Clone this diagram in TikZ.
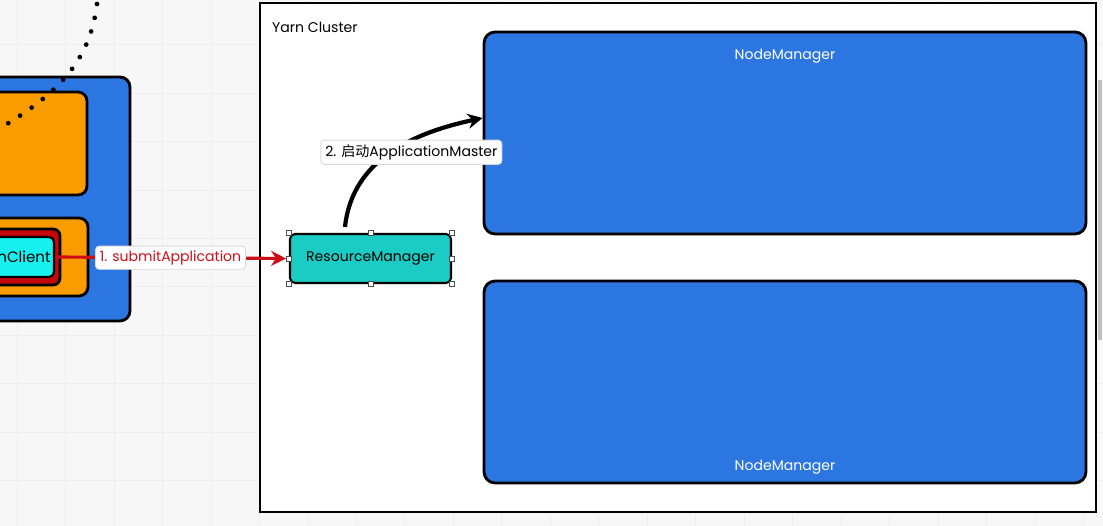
\documentclass[tikz,border=0pt]{standalone}
\usepackage{fontspec}
\setmainfont{Poppins}
\newfontfamily\cjk{Noto Sans CJK SC}
\usetikzlibrary{arrows.meta}

\definecolor{nmblue}{RGB}{43,118,224}
\definecolor{boxorange}{RGB}{250,156,0}
\definecolor{rmteal}{RGB}{26,204,196}
\definecolor{clientcyan}{RGB}{24,240,240}
\definecolor{clientred}{RGB}{196,8,12}
\definecolor{arrowred}{RGB}{205,15,25}
\definecolor{canvas}{RGB}{247,247,247}

\begin{document}
\begin{tikzpicture}[x=0.02cm,y=-0.02cm,
	font=\fontsize{8}{10}\selectfont,
	box/.style={shape=rectangle,draw=black,line width=1.6pt,rounded corners=0.22cm,inner sep=0pt},
	nm/.style={box,fill=nmblue,minimum width=12.04cm,minimum height=4.04cm},
	tag/.style={shape=rectangle,draw=black!15,line width=0.5pt,fill=white,rounded corners=2pt,inner sep=2.5pt},
	handle/.style={shape=rectangle,draw=black!70,fill=white,line width=0.4pt,minimum size=0.1cm,inner sep=0pt}]

	\useasboundingbox (0,0) rectangle (1103,526);
	\clip (0,0) rectangle (1103,526);
	\fill[canvas] (0,0) rectangle (1103,526);
	\draw[black!7,line width=0.5pt,xshift=0.34cm,yshift=0.08cm,step=0.97cm] (-50,-50) grid (1150,600);

	\node[shape=rectangle,draw=black,fill=white,line width=1.2pt,minimum width=16.72cm,minimum height=10.18cm,inner sep=0pt] (cluster) at (678,257.5) {};
	\node[anchor=west] (clustertext) at (266,27) {Yarn Cluster};

	\node[nm] (nmA) at (785,133) {};
	\node[nm] (nmB) at (785,382) {};
	\node[white] (nmAtext) at (785,56) {NodeManager};
	\node[white] (nmBtext) at (785,467) {NodeManager};

	\node[box,fill=nmblue,rounded corners=0.2cm,minimum width=4.6cm,minimum height=4.88cm] (client) at (15,199) {};
	\node[box,fill=boxorange,rounded corners=0.18cm,minimum width=3.34cm,minimum height=2.06cm] (orA) at (3.5,143.5) {};
	\node[box,fill=boxorange,rounded corners=0.18cm,minimum width=3.36cm,minimum height=1.56cm] (orB) at (4,257) {};
	\node[box,fill=clientred,rounded corners=0.14cm,minimum width=2.4cm,minimum height=1.12cm] (yred) at (0,257) {};
	\node[box,fill=clientcyan,line width=1.2pt,rounded corners=0.1cm,minimum width=2.16cm,minimum height=0.8cm] (yc) at (0,257) {};
	\node[anchor=east,inner sep=0pt,font=\fontsize{8.6}{10}\selectfont] (yctext) at (51,257) {YarnClient};

	\node[box,fill=rmteal,line width=1.2pt,rounded corners=0.1cm,minimum width=3.22cm,minimum height=0.98cm] (rm) at (370.5,258.5) {ResourceManager};
	\foreach \a [count=\i] in {north west,north,north east,east,south east,south,south west,west}
		\node[handle] (h\i) at (rm.\a) {};

	\coordinate (rmtop) at ([xshift=-0.51cm,yshift=0.12cm]rm.north);
	\coordinate (nmin) at ([yshift=0.3cm]nmA.west);

	\path[draw=arrowred,line width=1.8pt,-{Stealth[length=0.3cm,width=0.3cm]}] (yc.east) -- node[tag,text=arrowred]{1. submitApplication} (h8);
	\path[draw=black,line width=2.4pt,-{Stealth[length=0.3cm,width=0.3cm]}] (rmtop) to[out=84,in=192] node[tag,pos=0.5,xshift=0.4cm]{2. {\cjk 启动}ApplicationMaster} (nmin);

	\draw[line width=2.7pt,line cap=round,dash pattern=on 0pt off 8pt] (97,4) .. controls (90,60) and (60,95) .. (-12,135);

	\fill[black!25] (1098,80) rectangle (1102,340);
\end{tikzpicture}
\end{document}
